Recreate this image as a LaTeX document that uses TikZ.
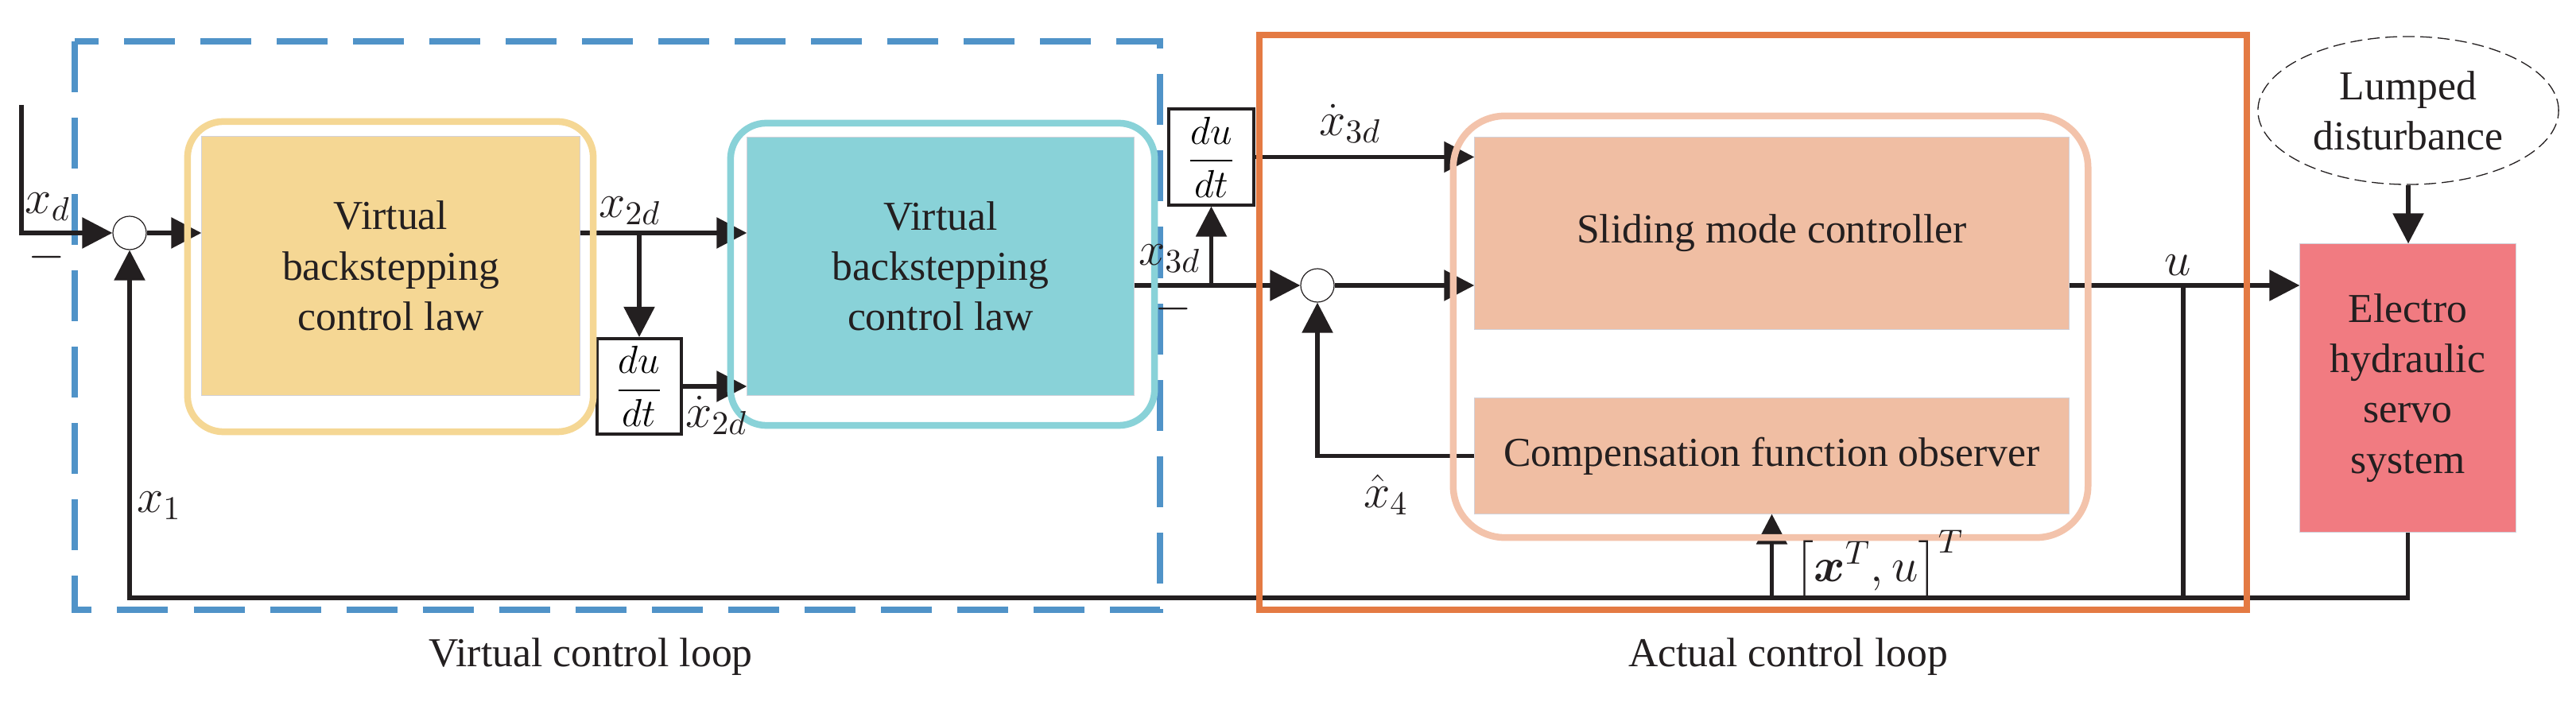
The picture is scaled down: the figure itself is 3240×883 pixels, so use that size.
\RequirePackage{fix-cm}
\documentclass[tikz,border=0pt]{standalone}
\usepackage{fontspec}
\setmainfont{Liberation Serif}
\usepackage{amsmath}
\usepackage{bm}
\usetikzlibrary{arrows.meta, positioning, shapes.geometric}
\definecolor{linegray}{HTML}{231F20}
\definecolor{virtualblue}{HTML}{5093C8}
\definecolor{actualorange}{HTML}{E47A43}
\definecolor{lawyellow}{HTML}{F5D794}
\definecolor{lawteal}{HTML}{89D2D8}
\definecolor{ctrlpeach}{HTML}{F0BEA3}
\definecolor{framepeach}{HTML}{F3C3AB}
\definecolor{plantred}{HTML}{F17B81}
\definecolor{filledge}{HTML}{D2D2DA}
\tikzset{%
	every block/.style={
		inner sep=0pt,
		align=center,
		text=linegray,
		font=\fontsize{14.7}{18}\selectfont
	},
	filled block/.style={
		every block,
		draw=filledge,
		line width=0.01cm
	},
	block frame/.style={
		draw,
		line width=0.085cm,
		rounded corners=0.45cm,
		inner sep=0pt
	},
	sum point/.style={
		circle,
		draw=linegray,
		line width=0.012cm,
		fill=white,
		minimum size=0.42cm,
		inner sep=0pt
	},
	deriv box/.style={
		draw=linegray,
		line width=0.04cm,
		minimum width=1.06cm,
		minimum height=1.2cm,
		inner sep=0pt,
		font=\fontsize{14}{17}\selectfont
	},
}

\begin{document}
\begin{tikzpicture}[
		x=0.01cm, y=-0.01cm,
		signal/.style={draw=linegray, line width=0.055cm, -{Triangle[length=0.38cm, width=0.38cm]}},
		wire/.style={draw=linegray, line width=0.055cm},
		sig label/.style={inner sep=0pt, text=linegray, font=\fontsize{17}{20}\selectfont}
		]
		\useasboundingbox (0,0) rectangle (3240,883);
		\draw[virtualblue, line width=0.076cm, dash pattern=on 0.64cm off 0.32cm] (94,52) rectangle (1459,767);
		
		\node[filled block, fill=lawyellow, minimum width=4.75cm, minimum height=3.25cm] (lawA) at (491.5,334.5) {Virtual\\backstepping\\control law};
		\node[filled block, fill=lawteal, minimum width=4.86cm, minimum height=3.24cm] (lawB) at (1183,335) {Virtual\\backstepping\\control law};
		\node[filled block, fill=ctrlpeach, minimum width=7.47cm, minimum height=2.41cm] (smc) at (2228.5,293.5) {Sliding mode controller};
		\node[filled block, fill=ctrlpeach, minimum width=7.47cm, minimum height=1.45cm] (cfo) at (2228.5,573.5) {Compensation function observer};
		\node[filled block, fill=plantred, minimum width=2.71cm, minimum height=3.62cm] (plant) at (3028.5,488) {Electro\\hydraulic\\servo\\system};
		\node[every block, ellipse, draw=linegray, line width=0.013cm, dash pattern=on 0.15cm off 0.07cm, minimum width=3.78cm, minimum height=1.86cm] (dist) at (3029,139) {Lumped\\disturbance};
		
		\node[sum point] (sum1) at (163,293) {};
		\node[sum point] (sum2) at (1657,359) {};
		\node[deriv box] (dA) at (804,486) {$\dfrac{du}{dt}$};
		\node[deriv box] (dB) at (1523.5,197.5) {$\dfrac{du}{dt}$};
		
		\coordinate (xd in) at (27,132);
		\coordinate (fbrow) at (1000,752);
		\coordinate (utap) at (2746,360);
		
		\draw[signal] (xd in) |- (sum1.west);
		\draw[signal] (sum1.east) -- (sum1 -| lawA.west);
		\draw[signal] (sum1 -| lawA.east) -- (sum1 -| lawB.west);
		\draw[signal] (sum1 -| dA) -- (dA.north);
		\draw[signal] (dA.east) -- (dA.east -| lawB.west);
		\draw[signal] (sum2 -| lawB.east) -- (sum2.west);
		\draw[signal] (sum2 -| dB) -- (dB.south);
		\draw[signal] (dB.east) -- (dB.east -| smc.west);
		\draw[signal] (sum2.east) -- (sum2 -| smc.west);
		\draw[signal] (cfo.west) -| (sum2.south);
		\draw[signal] (sum2 -| smc.east) -- (sum2 -| plant.west);
		\draw[wire] (utap) -- (utap |- fbrow);
		\draw[signal] (plant.south) |- (fbrow) -| (sum1.south);
		\draw[signal] (cfo.south |- fbrow) -- (cfo.south);
		\draw[signal] (dist.south) -- (dist.south |- plant.north);
		
		\node[block frame, draw=lawyellow, minimum width=5.10cm, minimum height=3.90cm] (lawA frame) at (491,348) {};
		\node[block frame, draw=lawteal, minimum width=5.33cm, minimum height=3.80cm] (lawB frame) at (1185.5,345) {};
		\node[block frame, draw=framepeach, rounded corners=0.65cm, minimum width=7.98cm, minimum height=5.30cm] (ctrl frame) at (2227,411) {};
		\draw[actualorange, line width=0.08cm] (1584,44) rectangle (2826,767);
		
		\node[sig label] (xd lbl) at (60,260) {$x_d$};
		\node[sig label] (minus a) at (59,324) {$-$};
		\node[sig label] (x2d lbl) at (792,265) {$x_{2d}$};
		\node[sig label] (dx2d lbl) at (901,522) {$\dot{x}_{2d}$};
		\node[sig label] (x3d lbl) at (1471,325) {$x_{3d}$};
		\node[sig label] (minus b) at (1476,389) {$-$};
		\node[sig label] (dx3d lbl) at (1698,155) {$\dot{x}_{3d}$};
		\node[sig label] (x4 lbl) at (1743,622) {$\hat{x}_4$};
		\node[sig label] (u lbl) at (2739,334) {$u$};
		\node[sig label] (state lbl) at (2363,710) {$\bigl[\bm{x}^T, u\bigr]^T$};
		\node[sig label] (x1 lbl) at (200,636) {$x_1$};
		
		\node[every block] (virtual lbl) at (743,826) {Virtual control loop};
		\node[every block] (actual lbl) at (2249,826) {Actual control loop};
\end{tikzpicture}
\end{document}
